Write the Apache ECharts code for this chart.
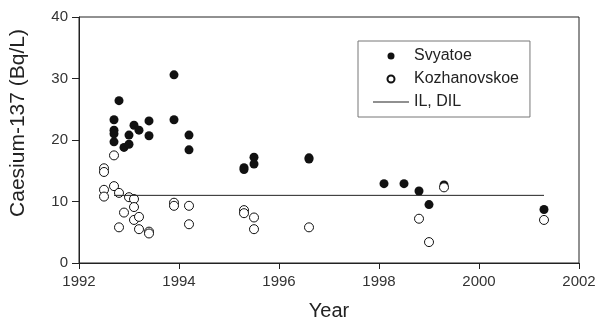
<!DOCTYPE html>
<html>
<head>
<meta charset="utf-8">
<script src="https://cdn.jsdelivr.net/npm/echarts@6/dist/echarts.min.js"></script>
<style>
  html, body { margin: 0; padding: 0; background: #fff; }
  #chart { width: 597px; height: 322px; }
</style>
</head>
<body>
<div id="chart"></div>
<script>
// Svyatoe lake samples: [year, Bq/L]
var svyatoe = [
  [1992.7, 23.3], [1992.7, 21.6], [1992.7, 21.0], [1992.7, 19.7],
  [1992.8, 26.4], [1992.9, 18.8], [1993.0, 19.3], [1993.0, 20.8],
  [1993.1, 22.4], [1993.2, 21.6], [1993.4, 23.1], [1993.4, 20.7],
  [1993.9, 30.6], [1993.9, 23.3], [1994.2, 20.8], [1994.2, 18.4],
  [1995.3, 15.5], [1995.3, 15.2], [1995.5, 17.2], [1995.5, 16.1],
  [1996.6, 17.1], [1996.6, 16.9], [1998.1, 12.9], [1998.5, 12.9],
  [1998.8, 11.7], [1999.0, 9.5], [1999.3, 12.7], [2001.3, 8.7]
]
// Kozhanovskoe lake samples: [year, Bq/L]
var kozhanovskoe = [
  [1992.5, 15.4], [1992.5, 14.8], [1992.5, 11.9], [1992.5, 10.8],
  [1992.7, 17.5], [1992.7, 12.5], [1992.8, 11.4], [1992.8, 5.8],
  [1992.9, 8.2], [1993.0, 10.7], [1993.1, 10.4], [1993.1, 9.1],
  [1993.1, 7.0], [1993.2, 7.5], [1993.2, 5.5], [1993.4, 5.1],
  [1993.4, 4.8], [1993.9, 9.8], [1993.9, 9.3], [1994.2, 9.3],
  [1994.2, 6.3], [1995.3, 8.6], [1995.3, 8.1], [1995.5, 7.4],
  [1995.5, 5.5], [1996.6, 5.8], [1998.8, 7.2], [1999.0, 3.4],
  [1999.3, 12.3], [2001.3, 7.0]
]
// intervention level line
var ilLine = [[1992.7, 11], [2001.3, 11]]
var seriesNames = ['Svyatoe', 'Kozhanovskoe', 'IL, DIL']

var font = 'Liberation Sans, Arial, Helvetica, sans-serif'
var chart = echarts.init(document.getElementById('chart'))
chart.setOption({
  animation: false,
  backgroundColor: '#fff',
  textStyle: { fontFamily: font },
  grid: {
    left: 79, right: 18, top: 17, bottom: 59,
    outerBoundsMode: 'none',
    show: true, borderColor: '#222', borderWidth: 1
  },
  legend: {
    orient: 'vertical',
    left: 358,
    top: 41,
    padding: [7, 11, 7, 15],
    itemWidth: 36,
    itemHeight: 7,
    itemGap: 7,
    borderColor: '#777',
    borderWidth: 1,
    textStyle: { fontSize: 16, color: '#222', lineHeight: 16 },
    data: [
      { name: seriesNames[0] },
      { name: seriesNames[1] },
      { name: seriesNames[2], icon: 'path://M0,0H36V1H0Z' }
    ]
  },
  xAxis: {
    type: 'value',
    min: 1992, max: 2002, interval: 2,
    name: 'Year',
    nameLocation: 'middle',
    nameGap: 38,
    nameTextStyle: { fontSize: 20, color: '#222' },
    splitLine: { show: false },
    axisLine: { lineStyle: { color: '#222' } },
    axisTick: { length: 6, lineStyle: { color: '#222' } },
    axisLabel: { fontSize: 15, color: '#333', margin: 11, formatter: function (v) { return String(v) } }
  },
  yAxis: {
    type: 'value',
    min: 0, max: 40, interval: 10,
    name: 'Caesium-137 (Bq/L)',
    nameLocation: 'middle',
    nameGap: 50,
    nameTextStyle: { fontSize: 21, color: '#222', padding: [0, 0, 0, 34] },
    splitLine: { show: false },
    axisLine: { show: true, lineStyle: { color: '#222' } },
    axisTick: { show: true, length: 7, lineStyle: { color: '#222' } },
    axisLabel: { fontSize: 15, color: '#333', margin: 11 }
  },
  series: [
    {
      name: seriesNames[0],
      type: 'scatter',
      symbolSize: 9,
      itemStyle: { color: '#111', opacity: 1 },
      data: svyatoe
    },
    {
      name: seriesNames[1],
      type: 'scatter',
      symbolSize: 9,
      itemStyle: { color: '#fff', borderColor: '#111', borderWidth: 1, opacity: 1 },
      data: kozhanovskoe
    },
    {
      name: seriesNames[2],
      type: 'line',
      symbol: 'none',
      lineStyle: { color: '#222', width: 1 },
      itemStyle: { color: '#222' },
      data: ilLine
    }
  ]
})
</script>
</body>
</html>
